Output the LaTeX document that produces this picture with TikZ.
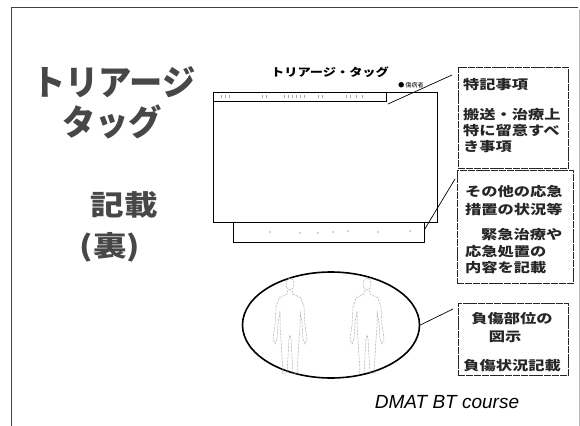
\documentclass[tikz,border=0pt]{standalone}
\usepackage{fontspec}
\setsansfont{Liberation Sans}
\newfontfamily\jp{Noto Sans CJK JP}
\newfontfamily\jpw{Noto Sans CJK JP}[FakeStretch=1.25]
\newfontfamily\jpt{Noto Sans CJK JP}[FakeStretch=0.95]
\newfontfamily\jpk{Noto Sans CJK JP}[FakeStretch=1.2]
\newfontfamily\jps{Noto Sans CJK JP}[FakeStretch=1.2]
\usetikzlibrary{shapes.geometric}

\tikzset{
  frameline/.style={line width=0.9pt, black!75},
  tagline/.style={draw=black, line width=0.8pt, inner sep=0},
  notebox/.style={draw=black!85, line width=0.9pt, dash pattern=on 7pt off 0.8pt, inner sep=0},
  note/.style={font=\jpw\bfseries\fontsize{13}{13}\selectfont, text=black!85, inner sep=0},
  bigtitle/.style={font=\jpt\bfseries\fontsize{35}{35}\selectfont, text=black!72, inner sep=0},
  kanjititle/.style={font=\jpk\bfseries\fontsize{28}{28}\selectfont, text=black!72, inner sep=0},
  lead/.style={line width=0.7pt, black},
  figline/.style={gray!60, line width=0.5pt, dash pattern=on 2.5pt off 1pt},
  printmark/.style={gray!70, line width=0.6pt},
  person/.pic={
    \draw[figline] (0,7) ellipse (4 and 6);
    \draw[figline] (-2,13) -- (-3,17) -- (-11,21) -- (-14,30) -- (-15,48) -- (-17,62)
      -- (-15,67) -- (-13,62) -- (-12,46) -- (-10,34) -- (-10,50) -- (-9,62) -- (-8,80)
      -- (-7,92) -- (-8,96) -- (-3,96) -- (-2,80) -- (-1,62) -- (0,58) -- (1,62)
      -- (2,80) -- (3,96) -- (8,96) -- (7,92) -- (8,80) -- (9,62) -- (10,50) -- (10,34)
      -- (12,46) -- (13,62) -- (15,67) -- (17,62) -- (15,48) -- (14,30) -- (11,21)
      -- (3,17) -- (2,13);
  }
}

\begin{document}
\begin{tikzpicture}[x=1pt, y=-1pt]
\useasboundingbox (0,0) rectangle (580,425);

% slide frame
\draw[frameline] (11,432) -- (11,7) -- (578,7);
\draw[gray!55, line width=0.7pt] (579,10) -- (579,432);

% headings on the left
\node[bigtitle] (t1) at (114,82) {トリアージ};
\node[bigtitle] (t2) at (112,122) {タッグ};
\node[kanjititle] (t3) at (124,205) {記載};
\node[kanjititle] (t4) at (110,247) {(裏)};

% the back of the tag
\node[font=\jps\bfseries\fontsize{11}{11}\selectfont, inner sep=0] (tagtitle) at (330,72) {トリアージ・タッグ};
\node[font=\jp\fontsize{6}{6}\selectfont, inner sep=0] (tagmark) at (411,85) {● 傷病者};
\node[tagline, minimum width=224pt, minimum height=130pt, anchor=north west] (tag) at (213,92) {};
\node[tagline, line width=1pt, minimum width=173pt, minimum height=9pt, anchor=north west] (bar) at (213,92) {};
\node[tagline, minimum width=191pt, minimum height=20pt, anchor=north west] (strip) at (233,222) {};

% faint printing inside the header bar and the strip
\foreach \x in {221,225,229,262,266,284,288,292,296,300,304,318,322,346,350,356,362}
  \draw[printmark] (\x,95) -- (\x,98);
\foreach \x/\y in {270/232,300/233,318/233,333/232,348/231,378/232,410/231}
  \fill[gray!70] (\x,\y) circle (0.8);

% body chart
\node[draw=black, line width=1.6pt, ellipse, minimum width=177pt, minimum height=106pt, inner sep=0] (body) at (331,325) {};
\pic at (290,277) {person};
\pic at (367,277) {person};

% note boxes
\node[notebox, minimum width=110pt, minimum height=101pt, anchor=north west] (box1) at (458,67) {};
\node[note, anchor=west] (b1a) at (463,85) {特記事項};
\node[note, anchor=west] (b1b) at (463,115) {搬送・治療上};
\node[note, anchor=west] (b1c) at (463,131) {特に留意すべ};
\node[note, anchor=west] (b1d) at (463,147) {き事項};

\node[notebox, minimum width=116pt, minimum height=113pt, anchor=north west] (box2) at (457,170) {};
\node[note, anchor=west] (b2a) at (465,192) {その他の応急};
\node[note, anchor=west] (b2b) at (465,210) {措置の状況等};
\node[note, anchor=west] (b2c) at (481,235) {緊急治療や};
\node[note, anchor=west] (b2d) at (465,252) {応急処置の};
\node[note, anchor=west] (b2e) at (465,268) {内容を記載};

\node[notebox, minimum width=110pt, minimum height=72pt, anchor=north west] (box3) at (458,303) {};
\node[note] (b3a) at (512,319) {負傷部位の};
\node[note] (b3b) at (505,337) {図示};
\node[note] (b3c) at (512,366) {負傷状況記載};

% leader lines
\coordinate (e1) at (452,75);
\coordinate (e2) at (455,179);
\coordinate (e3) at (453,309);
\draw[lead] ([shift={(1,2)}]bar.south east) -- (e1);
\draw[lead] ([shift={(0,7)}]strip.north east) -- (e2);
\draw[lead] (body.east) -- (e3);

% course label
\node[font=\sffamily\itshape\fontsize{19}{19}\selectfont, inner sep=0] (course) at (447,402) {DMAT BT course};
\end{tikzpicture}
\end{document}
